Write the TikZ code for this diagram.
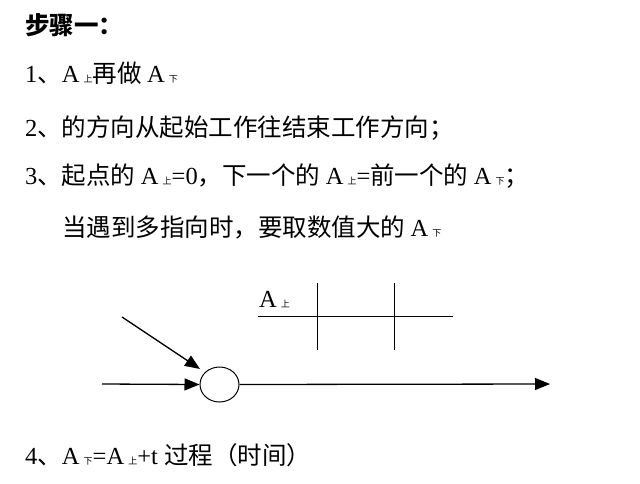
\documentclass[tikz,border=0pt]{standalone}
\usepackage{fontspec}
\setmainfont{Liberation Serif}
\newfontfamily\cjk{Noto Sans CJK SC}
\usetikzlibrary{arrows.meta,shapes.geometric}
\newcommand{\As}[1]{A\,{\cjk\fontsize{9}{9}\selectfont #1}}
\tikzset{txt/.style={anchor=west,inner sep=0pt,font=\fontsize{24.5}{24.5}\selectfont},
 ln/.style={line width=1pt},
 arr/.style={line width=1.3pt,-{Triangle[length=15pt,width=12pt]}}}
\begin{document}
\begin{tikzpicture}[x=1pt,y=-1pt]
\useasboundingbox (0,0) rectangle (640,483);
\node[txt] (t0) at (25,25) {\cjk\bfseries 步骤一：};
\node[txt] (t1) at (25,73) {1{\cjk 、}\As{上}{\cjk 再做 }\As{下}};
\node[txt] (t2) at (25,128) {2{\cjk 、的方向从起始工作往结束工作方向；}};
\node[txt] (t3) at (25,176) {3{\cjk 、起点的 }\As{上}=0{\cjk ，下一个的 }\As{上}={\cjk 前一个的 }\As{下}{\cjk ；}};
\node[txt] (t4) at (62,227) {{\cjk 当遇到多指向时，要取数值大的 }\As{下}};
\node[txt] (t5) at (25,455) {4{\cjk 、}\As{下}=\As{上}+t {\cjk 过程（时间）}};
\node[txt] (lab) at (259,300) {\As{上}};
\node[draw,ln,ellipse,minimum width=39pt,minimum height=35pt,inner sep=0pt] (e) at (219.5,384.5) {};
\coordinate (a0) at (102,384);
\coordinate (b0) at (122,317);
\coordinate (c1) at (550,384);
\draw[arr] (a0) -- (e.west);
\draw[arr] (b0) -- (200,369) coordinate (b1);
\draw[arr] (e.east) -- (c1);
\coordinate (h0) at (258,316); \coordinate (h1) at (453,316);
\coordinate (v0) at (317,283); \coordinate (v1) at (317,350);
\coordinate (w0) at (394,283); \coordinate (w1) at (394,350);
\draw[ln] (h0) -- (h1); \draw[ln] (v0) -- (v1); \draw[ln] (w0) -- (w1);
\end{tikzpicture}
\end{document}
